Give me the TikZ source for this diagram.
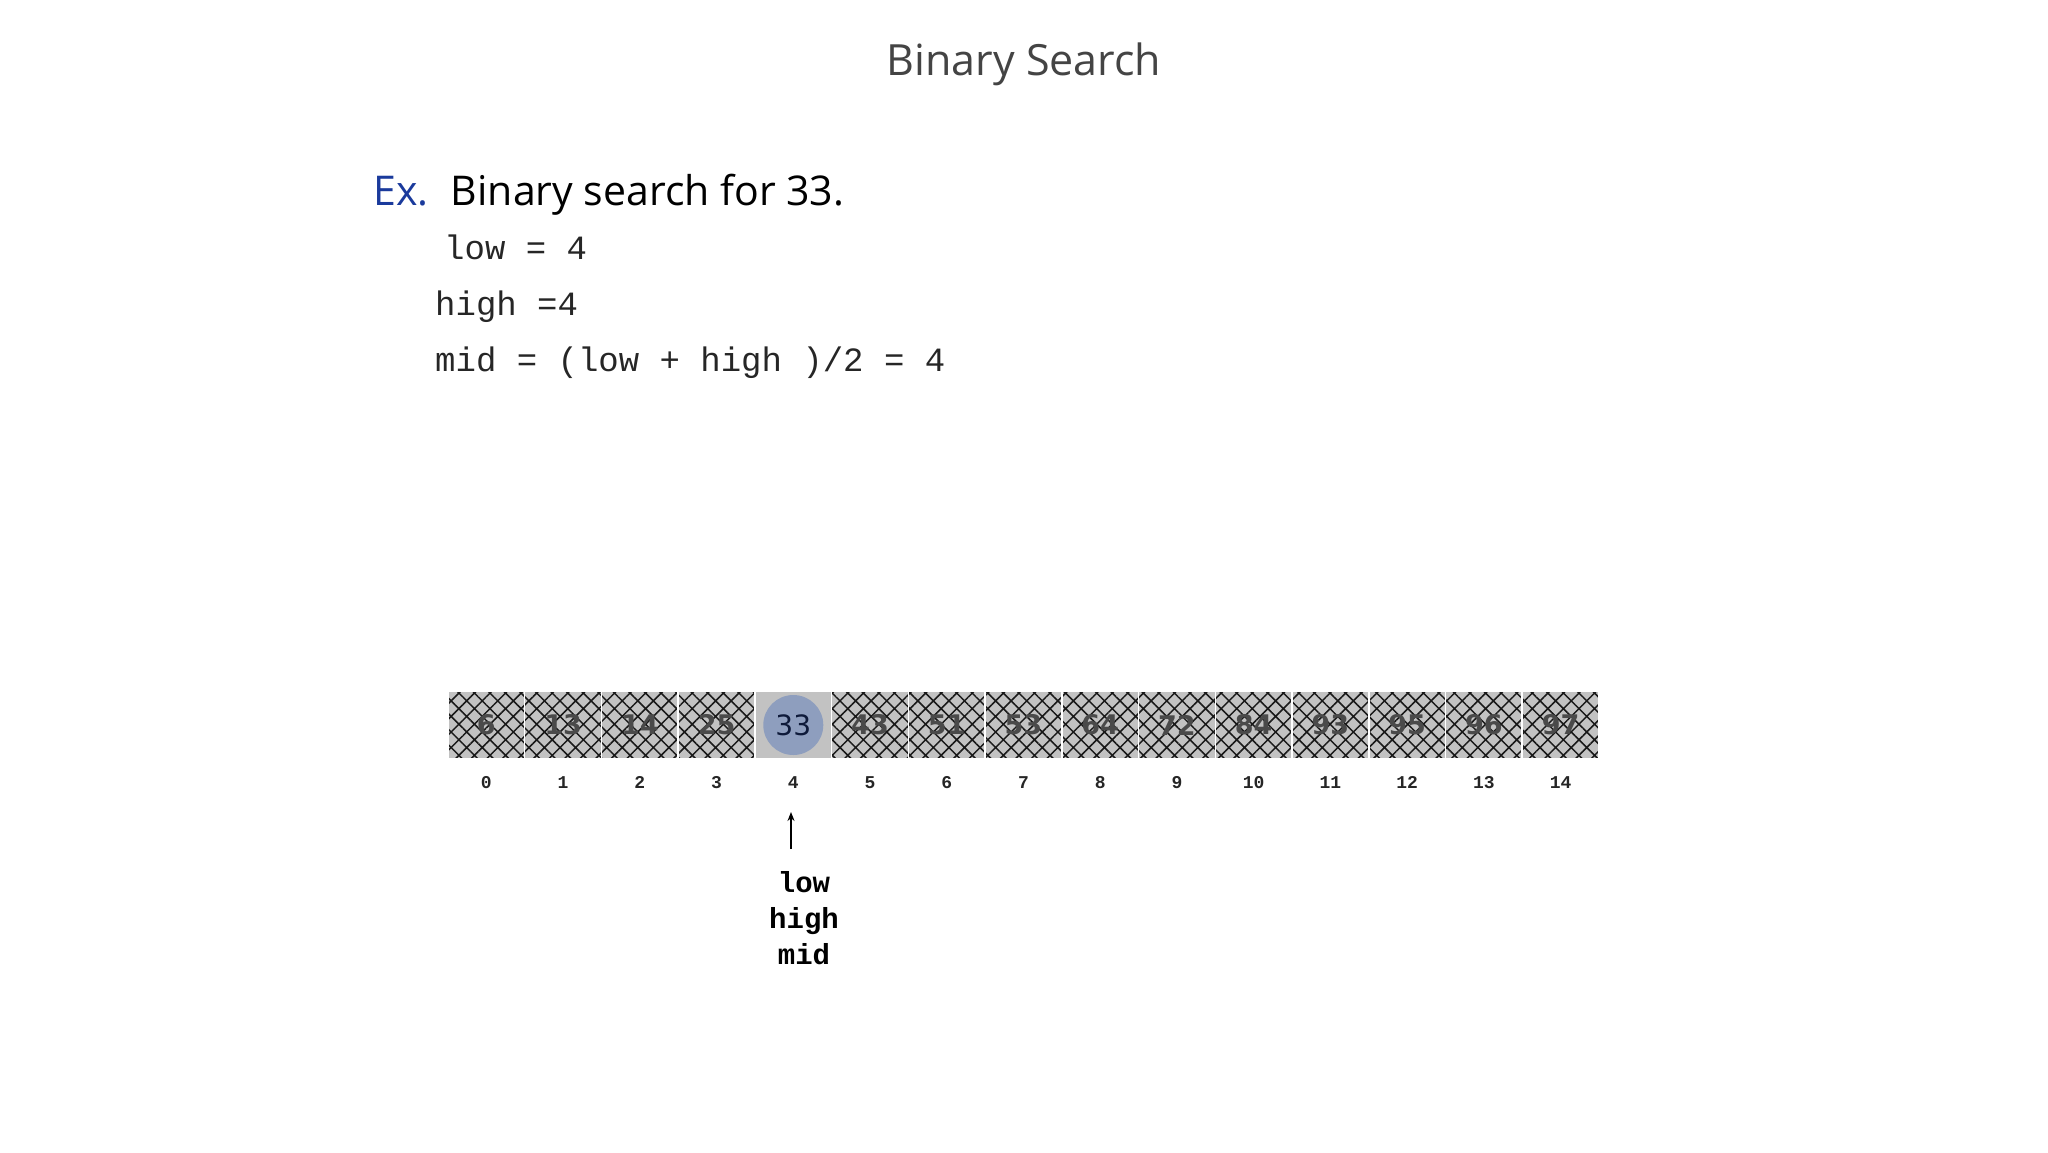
\documentclass[tikz,border=0pt]{standalone}
\usepackage{fontspec}
\usetikzlibrary{patterns.meta,arrows.meta}
\newfontfamily\comicf{Open Sans}
\newfontfamily\monof{Liberation Mono}
\newfontfamily\verdf{DejaVu Sans}
\definecolor{titlegray}{HTML}{444444}
\definecolor{exblue}{HTML}{1A3A9C}
\definecolor{cellgray}{HTML}{C2C2C2}
\definecolor{numgray}{HTML}{4A4A4A}
\definecolor{circblue}{HTML}{8E9EBE}
\definecolor{navy}{HTML}{0E1A3A}
\tikzset{
  cellbox/.style={minimum width=76.73pt, minimum height=68pt, inner sep=0pt,
    draw=white, line width=1.5pt, preaction={fill=cellgray},
    pattern={Hatch[angle=45,distance=11pt,line width=1.5pt]}, pattern color=black!90,
    text=numgray, font=\verdf\bfseries\fontsize{27}{30}\selectfont},
  plaincell/.style={minimum width=76.73pt, minimum height=68pt, inner sep=0pt,
    draw=white, line width=1.5pt, fill=cellgray},
  idxlabel/.style={font=\monof\bfseries\fontsize{18}{20}\selectfont, text=black!85, anchor=base},
  codeline/.style={font=\monof\fontsize{34}{36}\selectfont, text=black!85, anchor=base west, inner sep=0pt},
  ptrlabel/.style={font=\monof\bfseries\fontsize{29}{36}\selectfont, align=center, inner sep=0pt}
}
\begin{document}
\begin{tikzpicture}[x=1pt,y=-1pt]
\useasboundingbox (0,0) rectangle (2048,1152);
\fill[white] (0,0) rectangle (2048,1152);
% title
\node[font=\comicf\fontsize{43}{48}\selectfont, text=titlegray, anchor=base] (title) at (1024,75) {Binary Search};
% heading
\node[font=\comicf\fontsize{41}{48}\selectfont, anchor=base west, inner sep=0pt] (ex) at (373,205)
  {\textcolor{exblue}{Ex.}\hspace{0.55em}Binary search for 33.};
% code lines
\node[codeline] (lowline) at (444,259) {low = 4};
\node[codeline] (highline) at (435,315) {high =4};
\node[codeline] (midline) at (435,371) {mid = (low + high )/2 = 4};
% array
\foreach \v [count=\i from 0] in {6,13,14,25,33,43,51,53,64,72,84,93,95,96,97} {
  \pgfmathsetmacro{\cx}{448+76.73*(\i+0.5)}
  \ifnum\i=4
    \node[plaincell] (c\i) at (\cx,725) {};
  \else
    \node[cellbox] (c\i) at (\cx,725) {\v};
  \fi
  \node[idxlabel] (i\i) at (\cx,788) {\i};
}
\node[circle, fill=circblue, minimum size=60pt, inner sep=0pt, text=navy,
  font=\verdf\fontsize{28}{30}\selectfont] (mid) at (c4.center) {33};
% pointer
\node[ptrlabel] (ptr) at (804,918) {low\\high\\mid};
\coordinate (tip) at (791,812);
\draw[line width=2pt, -{Stealth[length=9pt,width=7pt]}] (791,849) -- (tip);
\end{tikzpicture}
\end{document}
